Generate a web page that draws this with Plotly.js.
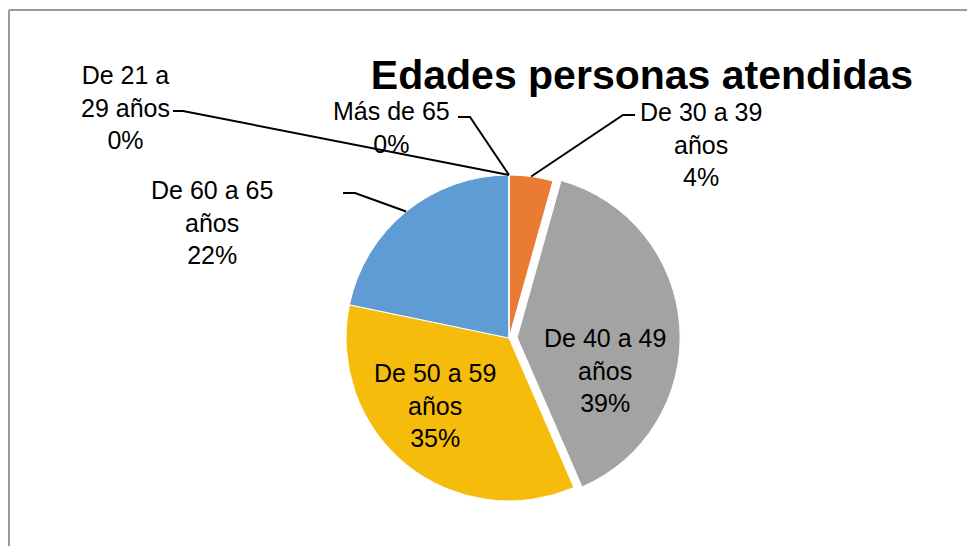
<!DOCTYPE html>
<html>
<head>
<meta charset="utf-8">
<script src="https://cdn.plot.ly/plotly-3.0.1.min.js"></script>
<style>
  html, body { margin: 0; padding: 0; background: #ffffff; }
  #chart { width: 967px; height: 546px; }
</style>
</head>
<body>
<div id="chart"></div>
<script>
// ---- data ----
const categories = ['De 21 a 29 años', 'De 30 a 39 años', 'De 40 a 49 años', 'De 50 a 59 años', 'De 60 a 65 años', 'Más de 65'];
const values = [0, 2, 18, 16, 10, 0];
const labelText = ['De 21 a<br>29 años', 'De 30 a 39<br>años', 'De 40 a 49<br>años', 'De 50 a 59<br>años', 'De 60 a 65<br>años', 'Más de 65'];
const colors = ['#4472C4', '#E97B33', '#A3A3A3', '#F6BC0C', '#5F9CD4', '#70AD47'];
const chartTitle = 'Edades personas atendidas';

// ---- layout constants (pixels) ----
const W = 967, H = 546;
const CX = 509, CY = 338, R = 163, PULL = 0.05;
const half = R * (1 + PULL);
const pulls = values.map((v, i) => i === 2 ? PULL : 0);

// label placement in px
const labelPos = [
  {x: 125, y: 108, line: [[173, 111], [183, 111]]},
  {x: 391, y: 127, line: [[458, 117], [470, 117]]},
  {x: 701, y: 145, line: [[635, 115], [623, 115]]},
  {x: 605, y: 370, line: null},
  {x: 435, y: 405, line: null},
  {x: 212, y: 222, line: [[343, 193], [355, 193]]}
];
// category index -> labelPos index
const labelOrder = [0, 2, 3, 4, 5, 1];

const total = values.reduce((a, b) => a + b, 0);
const pct = values.map(v => Math.round(v / total * 100) + '%');

function px2paper(p) { return [p[0] / W, 1 - p[1] / H]; }

// mid-angles (clockwise from 12 o'clock) -> anchor on the rim
let cum = 0;
const anchors = values.map(v => {
  const mid = (cum + v / 2) / total * 2 * Math.PI;
  cum += v;
  return [CX + R * Math.sin(mid), CY - R * Math.cos(mid)];
});

const annotations = [];
const shapes = [];
categories.forEach((c, i) => {
  const lp = labelPos[labelOrder[i]];
  annotations.push({
    xref: 'paper', yref: 'paper',
    x: lp.x / W, y: 1 - lp.y / H,
    xanchor: 'center', yanchor: 'middle',
    text: labelText[i] + '<br>' + pct[i],
    showarrow: false,
    align: 'center',
    font: {family: 'Liberation Sans, Arial, sans-serif', size: 25, color: '#000000'}
  });
  if (lp.line) {
    const pts = [lp.line[0], lp.line[1], anchors[i]].map(px2paper);
    shapes.push({
      type: 'path', xref: 'paper', yref: 'paper',
      path: 'M' + pts.map(p => p[0] + ',' + p[1]).join(' L'),
      line: {color: '#000000', width: 2}
    });
  }
});

// frame
shapes.push({type: 'line', xref: 'paper', yref: 'paper', x0: 9 / W, x1: 1.02, y0: 1 - 10 / H, y1: 1 - 10 / H, line: {color: '#9a9a9a', width: 2}});
shapes.push({type: 'line', xref: 'paper', yref: 'paper', x0: 9 / W, x1: 9 / W, y0: 1 - 10 / H, y1: -0.02, line: {color: '#9a9a9a', width: 2}});

const trace = {
  type: 'pie',
  labels: categories,
  values: values,
  sort: false,
  direction: 'clockwise',
  rotation: 0,
  pull: pulls,
  textinfo: 'none',
  hoverinfo: 'label+percent',
  marker: {colors: colors, line: {color: '#ffffff', width: 1}},
  domain: {
    x: [(CX - half) / W, (CX + half) / W],
    y: [(H - CY - half) / H, (H - CY + half) / H]
  },
  showlegend: false
};

const layout = {
  width: W, height: H,
  margin: {l: 0, r: 0, t: 0, b: 0},
  paper_bgcolor: '#ffffff',
  showlegend: false,
  title: {
    text: '<b>' + chartTitle + '</b>',
    x: 642 / W, xanchor: 'center',
    y: 1 - 75 / H, yanchor: 'middle',
    xref: 'paper', yref: 'paper',
    font: {family: 'Liberation Sans, Arial, sans-serif', size: 41, color: '#000000'}
  },
  annotations: annotations,
  shapes: shapes
};

Plotly.newPlot('chart', [trace], layout, {displayModeBar: false, staticPlot: true});
</script>
</body>
</html>
